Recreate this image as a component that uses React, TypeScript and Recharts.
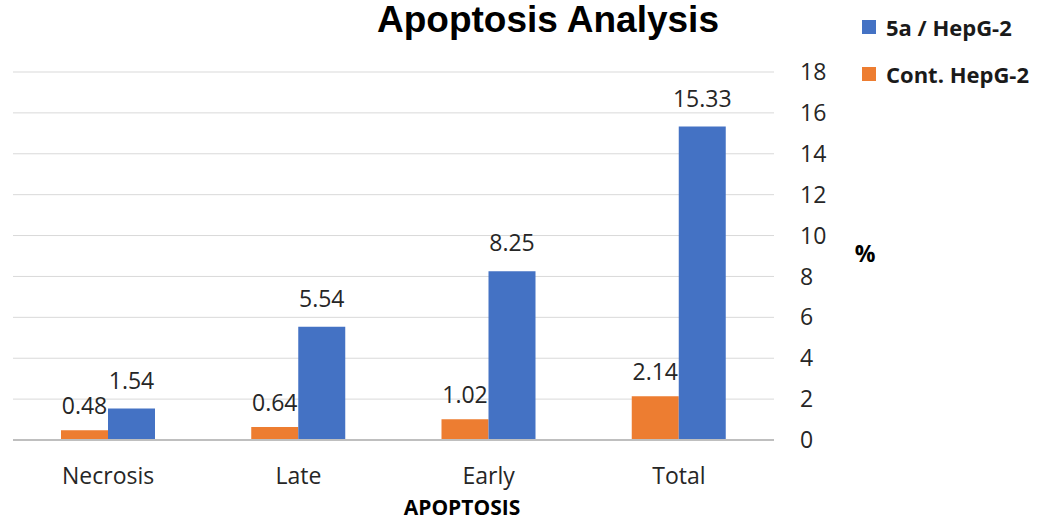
import { BarChart, Bar, XAxis, YAxis, CartesianGrid, LabelList } from "recharts";

const categories = ["Necrosis", "Late", "Early", "Total"];
const contHepG2 = [0.48, 0.64, 1.02, 2.14];
const treatedHepG2 = [1.54, 5.54, 8.25, 15.33];
const yTicks = [0, 2, 4, 6, 8, 10, 12, 14, 16, 18];

const BLUE = "#4472C4";
const ORANGE = "#ED7D31";
const FONT = "'Open Sans', sans-serif";

const data = categories.map((name, i) => ({
  name,
  cont: contHepG2[i],
  treated: treatedHepG2[i],
}));

const legendItems = [
  { label: "5a / HepG-2", color: BLUE },
  { label: "Cont. HepG-2", color: ORANGE },
];

function App() {
  return (
    <div
      style={{
        position: "absolute",
        left: 0,
        top: 0,
        width: 1037,
        height: 521,
        background: "#fff",
        fontFamily: FONT,
      }}
    >
      <div
        style={{
          position: "absolute",
          left: 348,
          top: 0,
          width: 400,
          textAlign: "center",
          fontFamily: "'Liberation Sans', Arial, sans-serif",
          fontWeight: "bold",
          fontSize: 37,
          lineHeight: "40px",
          color: "#000",
        }}
      >
        Apoptosis Analysis
      </div>

      {legendItems.map((item, i) => (
        <div
          key={item.label}
          style={{
            position: "absolute",
            left: 862,
            top: 10 + i * 47,
            height: 34,
            display: "flex",
            alignItems: "center",
            fontWeight: "bold",
            fontSize: 22,
            color: "#1a1a1a",
            whiteSpace: "nowrap",
          }}
        >
          <span
            style={{
              display: "inline-block",
              width: 14,
              height: 14,
              background: item.color,
              marginRight: 10,
            }}
          />
          {item.label}
        </div>
      ))}

      <div
        style={{
          position: "absolute",
          left: 848,
          top: 238,
          width: 34,
          textAlign: "center",
          fontWeight: "bold",
          fontSize: 23,
          lineHeight: "30px",
          color: "#000",
        }}
      >
        %
      </div>

      <div
        style={{
          position: "absolute",
          left: 362,
          top: 494,
          width: 200,
          height: 26,
          textAlign: "center",
          fontWeight: "bold",
          fontSize: 21,
          lineHeight: "26px",
          color: "#000",
        }}
      >
        APOPTOSIS
      </div>

      <div style={{ position: "absolute", left: 0, top: 0 }}>
        <BarChart
          width={1037}
          height={521}
          data={data}
          margin={{ top: 72, right: 203, left: 13, bottom: 21 }}
          barGap={0}
        >
          <CartesianGrid vertical={false} stroke="#d9d9d9" />
          <XAxis
            dataKey="name"
            axisLine={{ stroke: "#bfbfbf", strokeWidth: 2 }}
            tickLine={false}
            tickMargin={22}
            tick={{ fill: "#262626", fontSize: 23, fontFamily: FONT }}
            height={60}
          />
          <YAxis
            orientation="right"
            domain={[0, 18]}
            ticks={yTicks}
            interval={0}
            axisLine={false}
            tickLine={false}
            tickMargin={20}
            width={60}
            tick={{ fill: "#262626", fontSize: 23, fontFamily: FONT, textAnchor: "start" }}
          />
          <Bar dataKey="cont" fill={ORANGE} barSize={47} isAnimationActive={false}>
            <LabelList
              dataKey="cont"
              position="top"
              offset={16}
              style={{ fill: "#262626", fontSize: 23, fontFamily: FONT }}
            />
          </Bar>
          <Bar dataKey="treated" fill={BLUE} barSize={47} isAnimationActive={false}>
            <LabelList
              dataKey="treated"
              position="top"
              offset={20}
              style={{ fill: "#262626", fontSize: 23, fontFamily: FONT }}
            />
          </Bar>
        </BarChart>
      </div>
    </div>
  );
}

export default App;
